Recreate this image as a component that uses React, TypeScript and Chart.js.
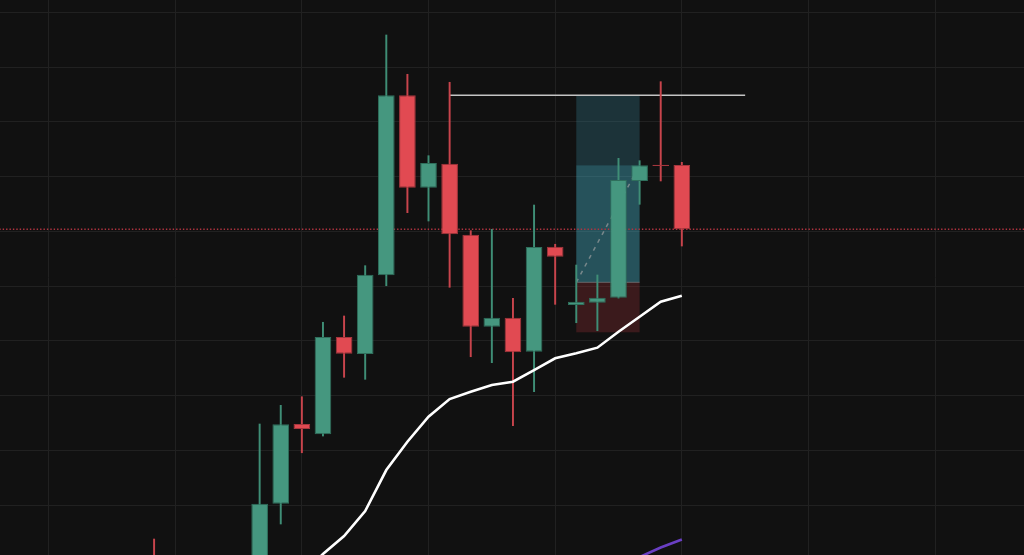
import React, { useEffect, useRef } from 'react';
import { Chart, registerables } from 'chart.js';

Chart.register(...registerables);

// ---- data ----
const candleIndex = [0, 5, 6, 7, 8, 9, 10, 11, 12, 13, 14, 15, 16, 17, 18, 19, 20, 21, 22, 23, 24, 25];
const opens = [89.6, 85.4, 100.24, 114.8, 112.92, 130.69, 127.58, 141.96, 174.84, 157.96, 162.35, 149.38, 132.57, 134.22, 128.0, 147.19, 136.54, 136.96, 137.87, 159.19, 162.17, 162.11];
const highs = [93.79, 114.8, 118.21, 119.78, 133.38, 134.53, 143.72, 185.86, 178.68, 163.81, 177.22, 150.11, 150.36, 137.76, 154.8, 147.63, 143.84, 142.02, 163.33, 162.9, 177.33, 162.6];
const lows = [82.65, 84.11, 96.53, 109.55, 112.6, 123.33, 122.96, 140.06, 153.4, 151.88, 139.77, 127.09, 126.0, 114.49, 120.7, 136.66, 133.3, 131.84, 137.8, 154.93, 159.19, 147.31];
const closes = [84.47, 100.24, 114.74, 113.88, 130.69, 127.64, 142.07, 174.84, 157.96, 162.48, 149.45, 132.57, 134.22, 127.9, 147.13, 145.36, 137.14, 137.87, 159.37, 162.06, 161.95, 150.36];

const maIndex = [7, 8, 9, 10, 11, 12, 13, 14, 15, 16, 17, 18, 19, 20, 21, 22, 23, 24, 25];
const maValues = [87.2, 91.05, 94.34, 98.9, 106.39, 111.56, 116.13, 119.36, 120.7, 121.92, 122.52, 124.66, 126.8, 127.71, 128.74, 131.66, 134.4, 137.14, 138.23];

const slowIndex = [22, 23, 24, 25];
const slowValues = [88.67, 90.5, 92.24, 93.7];

const levelStart = 14;
const levelEnd = 28;
const levelPrice = 174.84;

const boxStart = 20;
const boxEnd = 23;
const boxTarget = 174.84;
const boxCurrent = 162.06;
const boxEntry = 140.68;
const boxStop = 131.55;

const xTicks = [-5, 1, 7, 13, 19, 25, 31, 37];
const yTicks = [100, 110, 120, 130, 140, 150, 160, 170, 180, 190];
const xMin = -7.3;
const xMax = 41.21;
const yMin = 90.87;
const yMax = 192.25;

const GREEN = '#45977f';
const RED = '#e14a52';
const GREEN_BORDER = '#2f6f5c';
const RED_BORDER = '#a5363d';
const GREEN_WICK = '#3f8e76';
const RED_WICK = '#c8444c';

const boxPlugin = {
  id: 'positionBox',
  beforeDatasetsDraw(chart: any) {
    const { ctx, chartArea, scales } = chart;
    const x = scales.x;
    const y = scales.y;
    const x0 = x.getPixelForValue(boxStart);
    const x1 = x.getPixelForValue(boxEnd);
    const yT = y.getPixelForValue(boxTarget);
    const yC = y.getPixelForValue(boxCurrent);
    const yE = y.getPixelForValue(boxEntry);
    const yS = y.getPixelForValue(boxStop);
    ctx.save();
    ctx.beginPath();
    ctx.rect(chartArea.left, chartArea.top, chartArea.right - chartArea.left, chartArea.bottom - chartArea.top);
    ctx.clip();
    ctx.fillStyle = 'rgba(56,140,160,0.28)';
    ctx.fillRect(x0, yT, x1 - x0, yC - yT);
    ctx.fillStyle = 'rgba(70,175,195,0.42)';
    ctx.fillRect(x0, yC, x1 - x0, yE - yC);
    ctx.fillStyle = 'rgba(170,50,58,0.28)';
    ctx.fillRect(x0, yE, x1 - x0, yS - yE);
    ctx.strokeStyle = 'rgba(140,140,140,0.6)';
    ctx.lineWidth = 1;
    ctx.beginPath();
    ctx.moveTo(x0, yE);
    ctx.lineTo(x1, yE);
    ctx.stroke();
    ctx.restore();
  },
};

export default function App() {
  const ref = useRef<HTMLCanvasElement | null>(null);

  useEffect(() => {
    if (!ref.current) return;
    const up = candleIndex.map((_, k) => closes[k] >= opens[k]);
    const lastClose = closes[closes.length - 1];

    const chart = new Chart(ref.current, {
      type: 'bar',
      data: {
        datasets: [
          {
            type: 'line',
            data: maIndex.map((x, k) => ({ x, y: maValues[k] })),
            borderColor: '#ffffff',
            borderWidth: 2.6,
            pointRadius: 0,
            tension: 0,
            order: 1,
          } as any,
          {
            type: 'line',
            data: slowIndex.map((x, k) => ({ x, y: slowValues[k] })),
            borderColor: '#6a3fc4',
            borderWidth: 2.6,
            pointRadius: 0,
            tension: 0,
            order: 1,
          } as any,
          {
            type: 'bar',
            data: candleIndex.map((x, k) => ({ x, y: [opens[k], closes[k]] })),
            backgroundColor: up.map((u) => (u ? GREEN : RED)),
            borderColor: up.map((u) => (u ? GREEN_BORDER : RED_BORDER)),
            borderWidth: 1,
            borderSkipped: false,
            categoryPercentage: 1,
            barPercentage: 0.79,
            grouped: false,
            order: 2,
          } as any,
          {
            type: 'bar',
            data: candleIndex.map((x, k) => ({ x, y: [lows[k], highs[k]] })),
            backgroundColor: up.map((u) => (u ? GREEN_WICK : RED_WICK)),
            borderWidth: 0,
            barThickness: 1.3,
            grouped: false,
            order: 3,
          } as any,
          {
            type: 'line',
            data: [
              { x: levelStart, y: levelPrice },
              { x: levelEnd, y: levelPrice },
            ],
            borderColor: '#c4c4c4',
            borderWidth: 1.5,
            pointRadius: 0,
            order: 5,
          } as any,
          {
            type: 'line',
            data: [
              { x: xMin - 1, y: lastClose },
              { x: xMax + 1, y: lastClose },
            ],
            borderColor: '#b03440',
            borderWidth: 1.4,
            borderDash: [1.4, 2],
            pointRadius: 0,
            order: 6,
          } as any,
          {
            type: 'line',
            data: [
              { x: boxStart, y: boxEntry },
              { x: boxEnd, y: boxCurrent },
            ],
            borderColor: 'rgba(165,165,165,0.65)',
            borderWidth: 1.5,
            borderDash: [4, 5],
            pointRadius: 0,
            order: 7,
          } as any,
        ],
      },
      options: {
        animation: false,
        responsive: true,
        maintainAspectRatio: false,
        layout: { padding: 0 },
        plugins: {
          legend: { display: false },
          tooltip: { enabled: false },
        },
        scales: {
          x: {
            type: 'linear',
            min: xMin,
            max: xMax,
            offset: false,
            grid: { color: '#212121', lineWidth: 1, drawTicks: false, offset: false },
            border: { display: false },
            ticks: { display: false },
            afterBuildTicks: (scale: any) => {
              scale.ticks = xTicks.map((v) => ({ value: v }));
            },
          },
          y: {
            type: 'linear',
            min: yMin,
            max: yMax,
            beginAtZero: false,
            grid: { color: '#212121', lineWidth: 1, drawTicks: false },
            border: { display: false },
            ticks: { display: false },
            afterBuildTicks: (scale: any) => {
              scale.ticks = yTicks.map((v) => ({ value: v }));
            },
          },
        },
      } as any,
      plugins: [boxPlugin],
    });
    return () => chart.destroy();
  }, []);

  return (
    <div
      style={{
        position: 'fixed',
        left: 0,
        top: 0,
        width: '1024px',
        height: '555px',
        background: '#111111',
      }}
    >
      <canvas ref={ref} />
    </div>
  );
}
